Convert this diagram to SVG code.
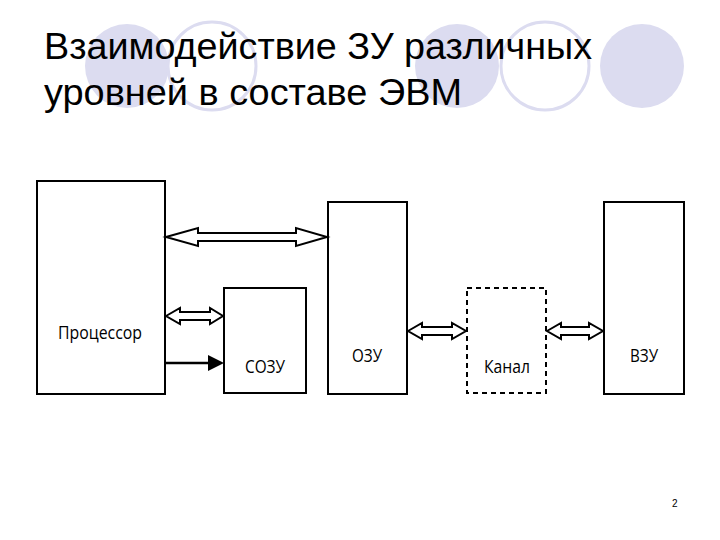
<svg xmlns="http://www.w3.org/2000/svg" width="720" height="540" viewBox="0 0 720 540">
<style>
.bg{fill:#dcdcf0}.ring{fill:none;stroke:#dcdcf0;stroke-width:3}
.box{fill:#fff;stroke:#000;stroke-width:2}
.lbl{font-family:"Open Sans","DejaVu Sans Condensed",sans-serif;font-size:19px;text-anchor:middle}
.t{font-family:"Liberation Sans",Arial,sans-serif;font-size:37px}
.da{fill:#fff;stroke:#000;stroke-width:2;stroke-linejoin:miter}
</style>
<rect width="720" height="540" fill="#fff"/>
<circle class="bg" cx="127" cy="66" r="42"/>
<circle class="ring" cx="212" cy="66" r="44"/>
<circle class="bg" cx="457" cy="66" r="42"/>
<circle class="ring" cx="545" cy="66" r="44"/>
<circle class="bg" cx="642" cy="66" r="42"/>
<text class="t" x="44" y="59" textLength="548" lengthAdjust="spacingAndGlyphs">Взаимодействие ЗУ различных</text>
<text class="t" x="44" y="105" textLength="418" lengthAdjust="spacingAndGlyphs">уровней в составе ЭВМ</text>
<g id="proc"><rect class="box" x="37" y="181" width="128" height="213"/><text class="lbl" x="100" y="339" textLength="84" lengthAdjust="spacingAndGlyphs">Процессор</text></g>
<g id="sozu"><rect class="box" x="224" y="288" width="82" height="105"/><text class="lbl" x="265" y="373" textLength="40" lengthAdjust="spacingAndGlyphs">СОЗУ</text></g>
<g id="ozu"><rect class="box" x="328" y="202" width="79" height="192"/><text class="lbl" x="367" y="362" textLength="30" lengthAdjust="spacingAndGlyphs">ОЗУ</text></g>
<g id="kanal"><rect class="box" x="467" y="288" width="79" height="105" stroke-dasharray="5,4"/><text class="lbl" x="507" y="373" textLength="46" lengthAdjust="spacingAndGlyphs">Канал</text></g>
<g id="vzu"><rect class="box" x="604" y="202" width="80" height="192"/><text class="lbl" x="644" y="362" textLength="28" lengthAdjust="spacingAndGlyphs">ВЗУ</text></g>
<g id="connectors">
<polygon class="da" points="166,237 198,228 198,233 296,233 296,228 327,237 296,246 296,241 198,241 198,246"/>
<polygon class="da" points="166,316 180,308 180,312 210,312 210,308 223,316 210,324 210,320 180,320 180,324"/>
<polygon class="da" points="408,331 422,323 422,327 452,327 452,323 466,331 452,339 452,335 422,335 422,339"/>
<polygon class="da" points="547,331 561,323 561,327 589,327 589,323 603,331 589,339 589,335 561,335 561,339"/>
<line x1="165" y1="363" x2="212" y2="363" stroke="#000" stroke-width="2.5"/>
<polygon points="224,363 208,355 208,371" fill="#000"/>
</g>
<text x="672" y="507" font-family="Liberation Sans,sans-serif" font-size="10">2</text>
</svg>
